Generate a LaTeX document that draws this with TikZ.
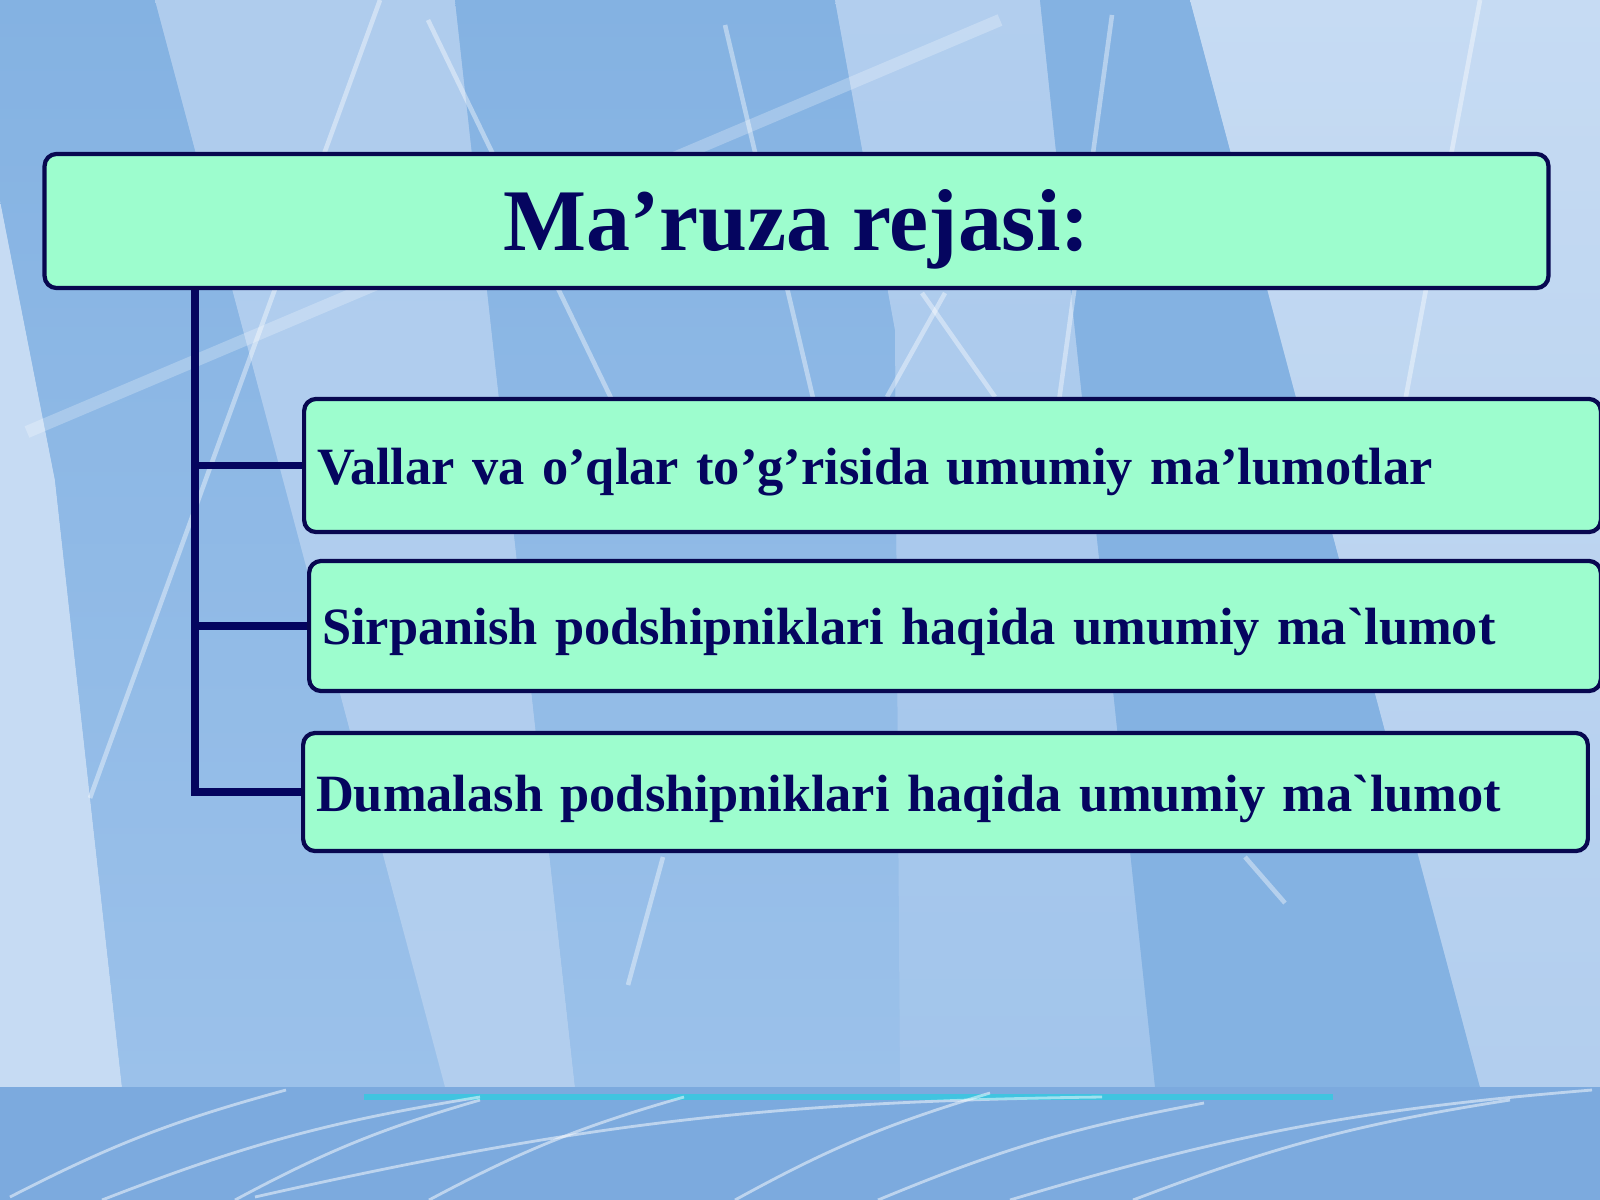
\documentclass[tikz,border=0pt]{standalone}
\usepackage{fontspec}
\setmainfont{Liberation Serif}[Ligatures=TeXOff]
\usepackage{tikz}

\definecolor{bgmid}{RGB}{155,193,234}
\definecolor{bgdark}{RGB}{132,178,226}
\definecolor{bglight}{RGB}{178,206,238}
\definecolor{bgpale}{RGB}{198,219,243}
\definecolor{bgfoot}{RGB}{124,170,222}
\definecolor{footline}{RGB}{64,196,224}
\definecolor{mint}{RGB}{157,253,206}
\definecolor{navy}{RGB}{8,8,80}
\definecolor{inknavy}{RGB}{5,5,95}

\begin{document}
\begin{tikzpicture}[x=0.01cm,y=-0.01cm,
    titlebox/.style={draw=navy,line width=1.2pt,fill=mint,rounded corners=0.12cm,
        text=inknavy,font=\fontsize{25}{30}\selectfont\bfseries,
        text height=18pt,text depth=1.5pt},
    itembox/.style={draw=navy,line width=1.2pt,fill=mint,rounded corners=0.12cm,
        text=inknavy,font=\fontsize{14.9}{18}\selectfont\bfseries,anchor=west,
        inner xsep=0.13cm,align=left,text height=12pt,text depth=1.2pt},
    link/.style={draw=inknavy,line width=2.2pt},
    streak/.style={white,opacity=0.4,line width=1.3pt},
    footstreak/.style={white,opacity=0.5,line width=0.8pt}]
    \useasboundingbox (0,0) rectangle (1600,1200);

    % background
    \fill[bgmid] (0,0) rectangle (1600,1087);
    \fill[bgpale] (0,200) -- (55,480) -- (122,1087) -- (0,1087) -- cycle;
    \shade[top color=bgdark,bottom color=bgmid] (0,0) -- (155,0) -- (445,1087) -- (122,1087) -- (55,480) -- (0,200) -- cycle;
    \shade[top color=bglight!85!bgmid,bottom color=bglight] (155,0) -- (455,0) -- (575,1087) -- (445,1087) -- cycle;
    \shade[top color=bgdark,bottom color=bgmid] (455,0) -- (835,0) -- (895,330) -- (900,1087) -- (575,1087) -- cycle;
    \shade[top color=bglight,bottom color=bgmid!70!bglight] (835,0) -- (1040,0) -- (1155,1087) -- (900,1087) -- (895,330) -- cycle;
    \fill[bgdark] (1040,0) -- (1190,0) -- (1480,1087) -- (1155,1087) -- cycle;
    \shade[top color=bgpale,bottom color=bglight] (1190,0) -- (1600,0) -- (1600,1087) -- (1480,1087) -- cycle;
    \foreach \xa/\ya/\xb/\yb in {380/0/90/798, 428/20/612/400, 725/25/830/470,
        1112/15/1051/459, 1480/0/1398/439, 945/293/887/397, 922/293/995/397,
        663/857/628/985, 1245/857/1285/903}
        \draw[streak] (\xa,\ya) -- (\xb,\yb);
    \draw[white,opacity=0.25,line width=3.5pt] (27,432) -- (1000,20);

    % footer band
    \fill[bgfoot] (0,1087) rectangle (1600,1200);
    \draw[footline,line width=1.8pt] (364,1097) -- (1333,1097);
    \foreach \xa/\ya/\xb/\yb in {286/1090/10/1197, 480/1097/102/1200, 480/1100/235/1200,
        684/1097/429/1200, 1102/1097/255/1197, 990/1093/735/1200,
        1204/1103/878/1200, 1592/1090/1010/1200, 1510/1100/1133/1200}
        \draw[footstreak] (\xa,\ya) to[bend right=6] (\xb,\yb);

    % boxes
    \node[titlebox,minimum width=15.03cm,minimum height=1.34cm] (title) at (796.5,221) {Ma’ruza rejasi:};
    \node[itembox,text width=12.70cm,minimum height=1.33cm] (item1) at (302,465.5)
        {Vallar va o’qlar to’g’risida umumiy ma’lumotlar};
    \node[itembox,text width=12.65cm,minimum height=1.30cm] (item2) at (307,626)
        {Sirpanish podshipniklari haqida umumiy ma`lumot};
    \node[itembox,text width=12.58cm,minimum height=1.18cm] (item3) at (301,792)
        {Dumalash podshipniklari haqida umumiy ma`lumot};

    % tree lines
    \coordinate (trunk) at (195,0);
    \draw[link] (title.south -| trunk) |- (item3.west);
    \foreach \i in {1,2}
        \draw[link] (item\i.west -| trunk) -- (item\i.west);
\end{tikzpicture}
\end{document}
